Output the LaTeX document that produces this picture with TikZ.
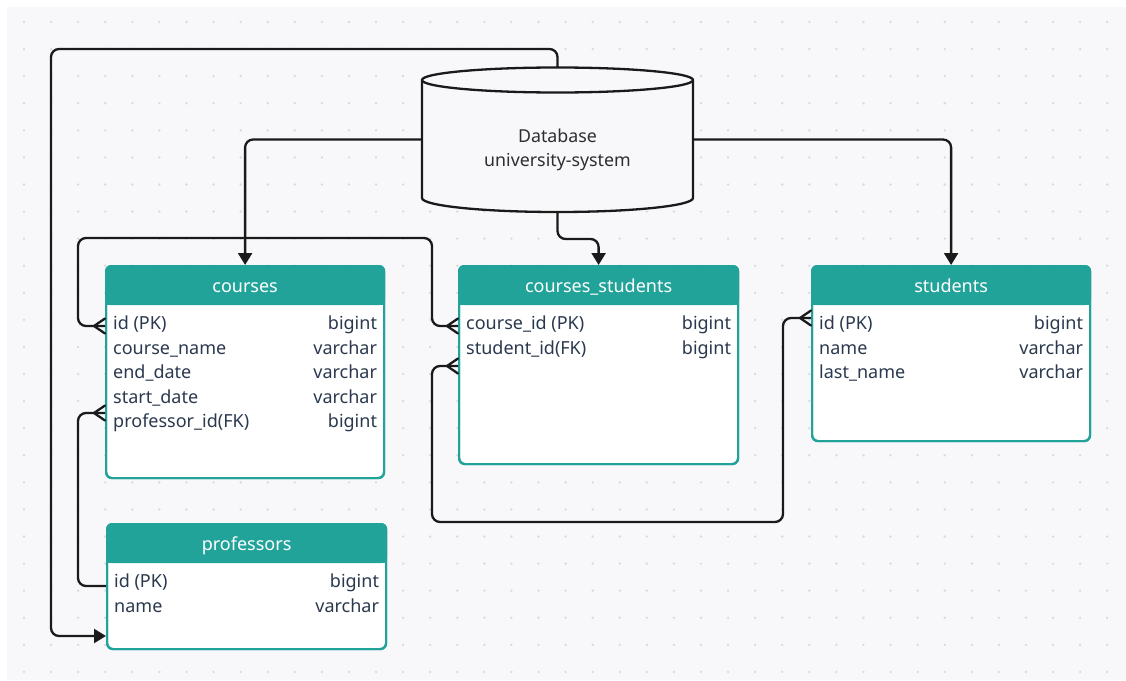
\documentclass[tikz,border=0pt]{standalone}
\usepackage{fontspec}
\setmainfont{Noto Sans}
\usetikzlibrary{arrows.meta}
\definecolor{bgc}{HTML}{F8F8FA}
\definecolor{dotc}{HTML}{D9DADE}
\definecolor{tealc}{HTML}{22A39A}
\definecolor{txtc}{HTML}{2B394E}
\definecolor{linec}{HTML}{1A1A1A}
\definecolor{dbtxt}{HTML}{2E2E2E}
\tikzset{
  conn/.style={draw=linec, line width=2.3pt, rounded corners=8pt},
  arr/.style={-{Triangle[length=12pt,width=14pt]}},
  tblbox/.style={draw=tealc, line width=2.2pt, fill=white, rounded corners=6pt, inner sep=0pt, anchor=north west},
  hdrtext/.style={anchor=base, text=white, inner sep=0pt, font=\fontsize{18}{21}\selectfont},
  rowl/.style={anchor=base west, text=txtc, inner sep=0pt, font=\fontsize{18}{21}\selectfont},
  rowr/.style={anchor=base east, text=txtc, inner sep=0pt, font=\fontsize{18}{21}\selectfont},
  dbshape/.style={draw=linec, line width=2.3pt, fill=bgc},
  dblabel/.style={text=dbtxt, align=center, inner sep=0pt, font=\fontsize{17.8}{24}\selectfont},
  crowfoot/.pic={\draw[draw=linec, line width=2.3pt, line cap=round] (-11,0) -- (0,-7.5) (-11,0) -- (0,7.5);}
}
% name, x, y, width, height, title, rows
\newcommand\ertable[7]{%
  \node[tblbox, minimum width=#4pt, minimum height=#5pt] (#1) at (#2,#3) {};
  \fill[tealc, rounded corners=6pt] (#1.north west) rectangle ([yshift=-40pt]#1.north east);
  \fill[tealc] ([yshift=-20pt]#1.north west) rectangle ([yshift=-40pt]#1.north east);
  \draw[draw=tealc, line width=2.2pt, rounded corners=6pt] ([shift={(1.1pt,1.1pt)}]#1.south west) rectangle ([shift={(-1.1pt,-1.1pt)}]#1.north east);
  \node[hdrtext] (#1-title) at ([yshift=-27pt]#1.north) {#6};
  \foreach \lt/\rt [count=\i from 0] in {#7}{
    \node[rowl] (#1-l\i) at ([xshift=8pt, yshift={-64.5pt-24.5pt*\i}]#1.north west) {\lt};
    \node[rowr] (#1-r\i) at ([xshift=-8pt, yshift={-64.5pt-24.5pt*\i}]#1.north east) {\rt};
  }
}
\begin{document}
\begin{tikzpicture}[x=1pt, y=-1pt]
\useasboundingbox (0,0) rectangle (1126,680);
\fill[white] (0,0) rectangle (1126,680);
\fill[bgc] (7,7) rectangle (1126,680);
\foreach \i in {0,...,41}{
  \foreach \j in {0,...,24}{
    \fill[dotc] ({24+27.08*\i},{22+27.08*\j}) circle[radius=1.3pt];
  }
}
% database cylinder
\filldraw[dbshape] (422,80) -- (422,198) arc[start angle=180, end angle=360, x radius=135.5pt, y radius=14pt]
  -- (693,80) arc[start angle=0, end angle=180, x radius=135.5pt, y radius=12.5pt] -- cycle;
\draw[draw=linec, line width=2.3pt] (422,80) arc[start angle=180, end angle=360, x radius=135.5pt, y radius=12.5pt];
\node[minimum width=271pt, minimum height=145pt, inner sep=0pt, outer sep=0pt] (db) at (557.5,139.5) {};
\node[dblabel] (dbtext) at (557.5,150) {Database\\university-system};

% tables
\ertable{courses}{105}{265}{278}{212}{courses}{id (PK)/bigint, course\_name/varchar, end\_date/varchar, start\_date/varchar, professor\_id(FK)/bigint}
\ertable{cs}{458}{265}{279}{198}{courses\_students}{course\_id (PK)/bigint, student\_id(FK)/bigint}
\ertable{students}{811}{265}{278}{175}{students}{id (PK)/bigint, name/varchar, last\_name/varchar}
\ertable{professors}{106}{523}{279}{125}{professors}{id (PK)/bigint, name/varchar}

% connectors from the database
\draw[conn, arr] (db.north) -- ++(0,-18) -- (51,49) -- (51,636) -- ([yshift=-113pt]professors.north west);
\draw[conn, arr] (db.west) -| (courses.north);
\draw[conn, arr] (db.east) -| (students.north);
\draw[conn, arr] (db.south) -- ++(0,27) -| (cs.north);

% relations
\coordinate (csA) at ([yshift=-61pt]cs.north west);
\coordinate (coA) at ([yshift=-61pt]courses.north west);
\draw[conn] (csA) -- (432,326) -- (432,238) -- (78,238) -- (78,326) -- (coA);
\pic at (csA) {crowfoot};
\pic at (coA) {crowfoot};

\coordinate (prA) at ([yshift=-63pt]professors.north west);
\coordinate (coB) at ([yshift=-148pt]courses.north west);
\draw[conn] (prA) -- (78,586) -- (78,413) -- (coB);
\pic at (coB) {crowfoot};

\coordinate (stA) at ([yshift=-53pt]students.north west);
\coordinate (csB) at ([yshift=-101pt]cs.north west);
\draw[conn] (stA) -- (783,318) -- (783,522) -- (432,522) -- (432,366) -- (csB);
\pic at (stA) {crowfoot};
\pic at (csB) {crowfoot};
\end{tikzpicture}
\end{document}
